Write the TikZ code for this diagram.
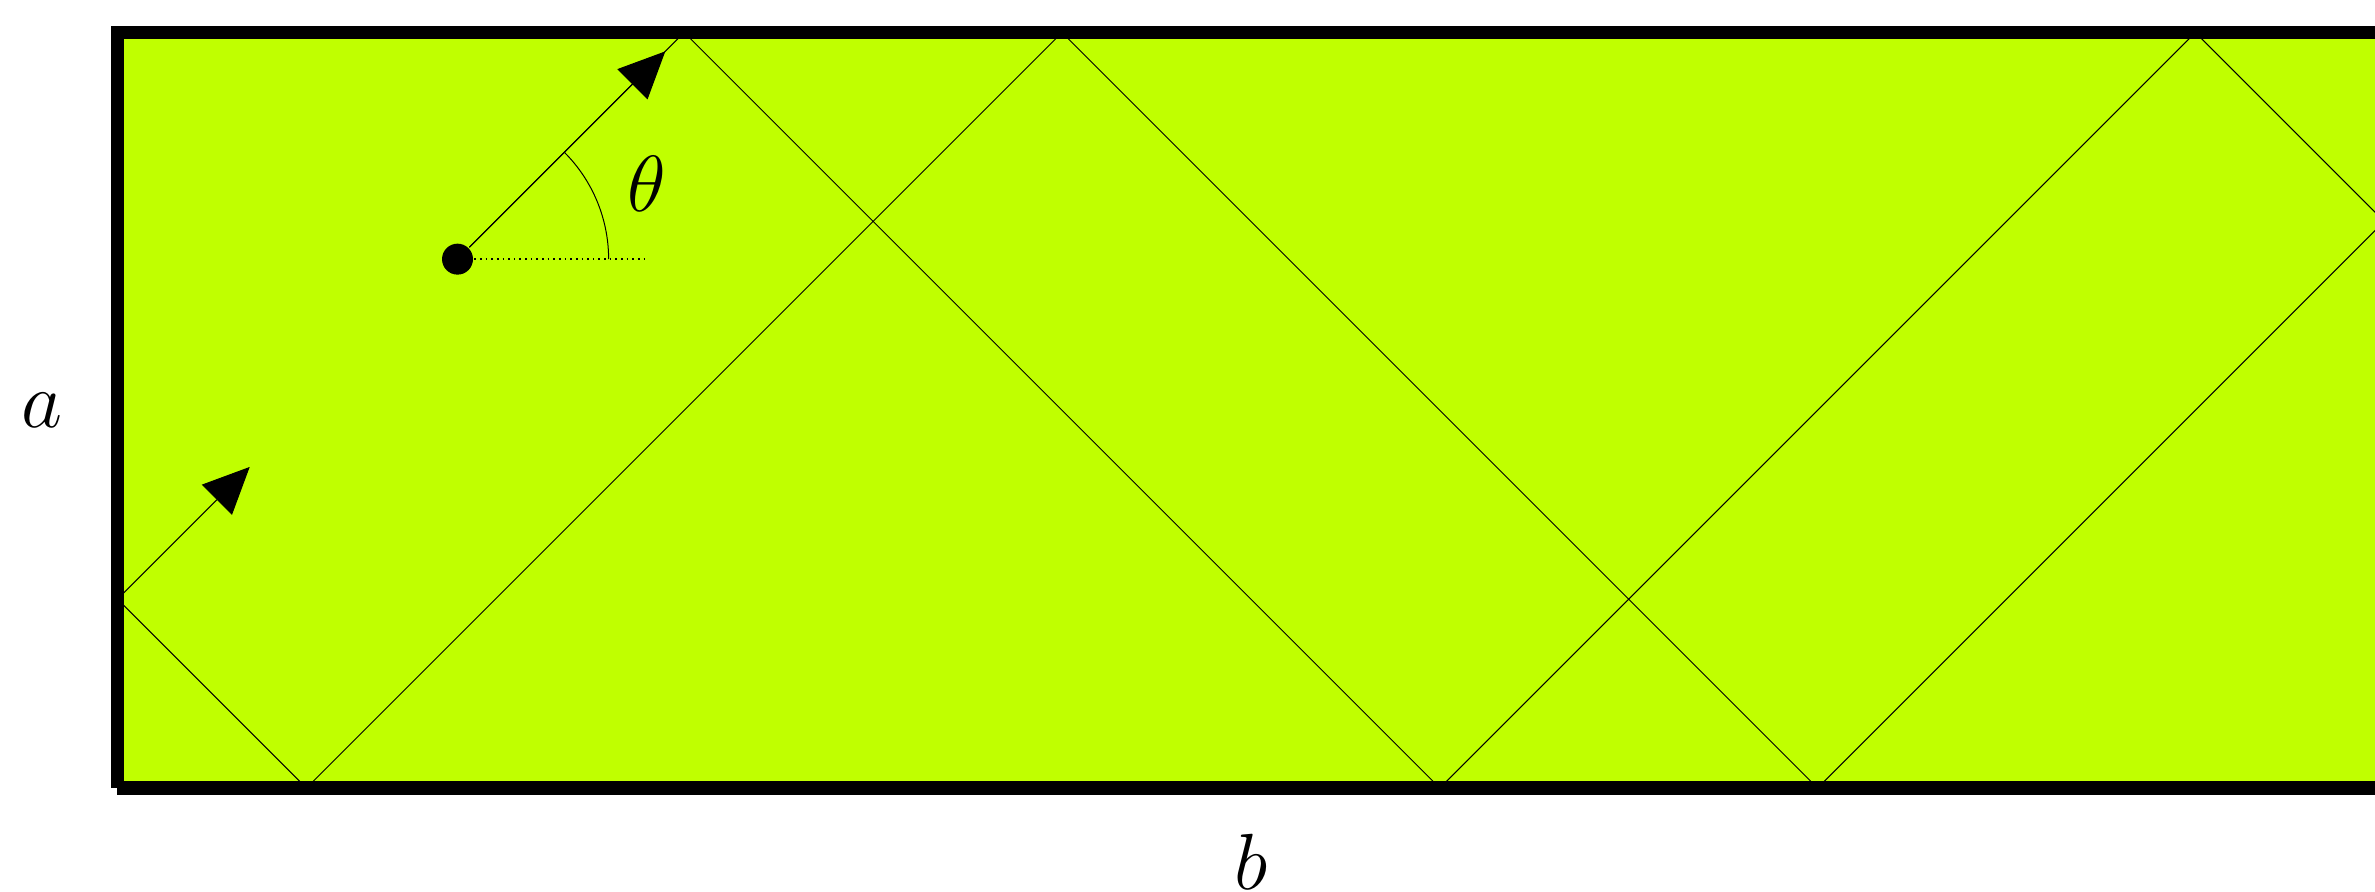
\documentclass[12pt,tikz,border=0pt]{standalone}
\usetikzlibrary{arrows.meta}
\definecolor{cavity}{RGB}{192,255,0}

\begin{document}
\begin{tikzpicture}[wall/.style={line width=2pt},
                    ray/.style={line width=0.15pt},
                    >={Triangle[length=7pt,width=6.4pt]}]
                        \useasboundingbox (-0.622,-0.545) rectangle (11.951,4.172);
                        % Box
                        \fill[cavity] (0,0) rectangle (12,4);
                        \draw[wall] (0,0) -- (0,4) -- (12,4);
                        \draw[wall] (0,0) -- (12,0);
                        \node (a) at (-0.4,2) {$a$};
                        \node (b) at (6,-0.39) {$b$};
                        % Start
                        \draw (1.8,2.8) node[circle,fill,inner sep=0pt,minimum size=0.164cm] (start) {};
                        \coordinate (ref) at (2.8,2.8);
                        \coordinate (tip1) at (2.9,3.9);
                        \draw [dash pattern=on 0.25pt off 0.6pt,line width=0.25pt] (start) -- (ref);
                        \draw [ray] (2.6,2.8) arc (0:45:0.8);
                        \node (theta) at (2.8,3.2) {$\theta$};
                        \draw [ray,->] (start) -- (tip1);
                        % Reflections
                        \coordinate (T1) at (3,4);
                        \coordinate (B1) at (7,0);
                        \coordinate (T2) at (11,4);
                        \coordinate (R1) at (12,3);
                        \coordinate (B2) at (9,0);
                        \coordinate (T3) at (5,4);
                        \coordinate (B3) at (1,0);
                        \coordinate (L1) at (0,1);
                        \coordinate (tip2) at (0.7,1.7);
                        \draw [ray] (start) -- (T1) -- (B1) -- (T2) -- (R1) -- (B2) -- (T3) -- (B3) -- (L1);
                        \draw [ray,->] (L1) -- (tip2);
                    \end{tikzpicture}
\end{document}
